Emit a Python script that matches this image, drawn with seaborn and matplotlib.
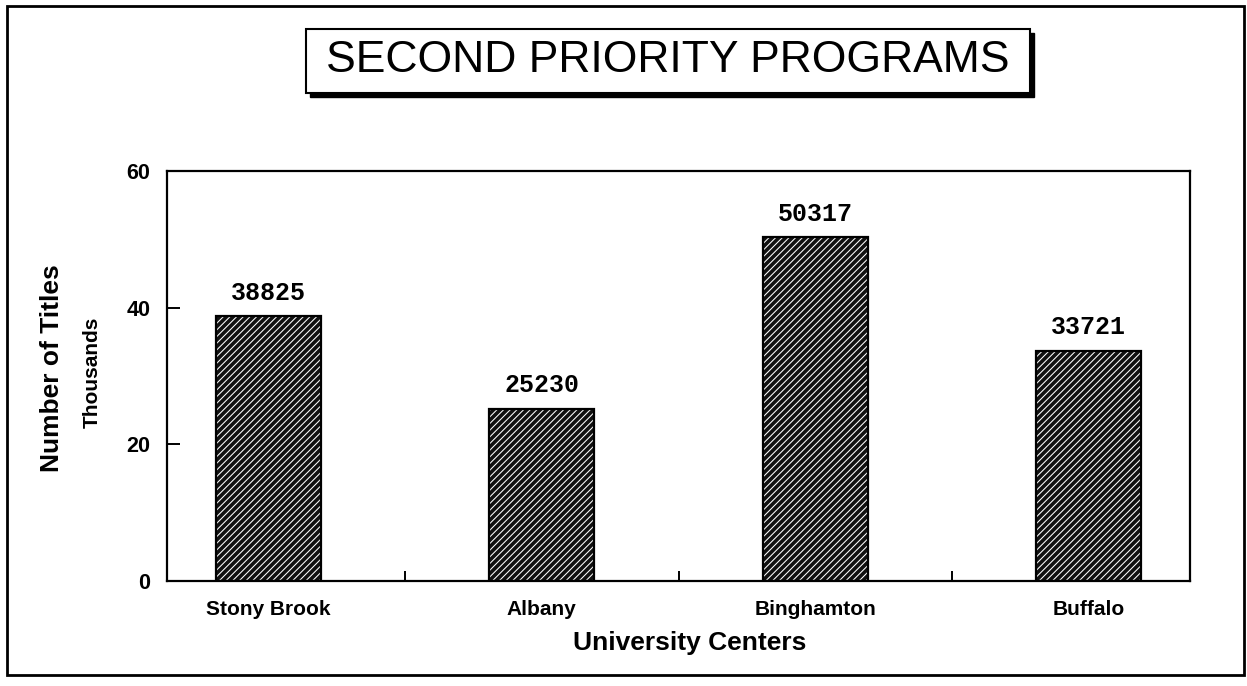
import matplotlib
matplotlib.use("Agg")
import matplotlib.pyplot as plt
from matplotlib.patches import Rectangle
import seaborn as sns
import pandas as pd

# ---- data ----
centers = ["Stony Brook", "Albany", "Binghamton", "Buffalo"]
titles = [38825, 25230, 50317, 33721]
yticks = [0, 20, 40, 60]
title_text = "SECOND PRIORITY PROGRAMS"
xlabel = "University Centers"
ylabel = "Number of Titles"
yunit = "Thousands"

df = pd.DataFrame({"center": centers, "thousands": [v / 1000 for v in titles]})

sns.set_style("white")
plt.rcParams["font.family"] = ["Liberation Sans", "DejaVu Sans"]
plt.rcParams["hatch.linewidth"] = 0.75
plt.rcParams["text.color"] = "black"
plt.rcParams["axes.labelcolor"] = "black"
plt.rcParams["xtick.color"] = "black"
plt.rcParams["ytick.color"] = "black"

W, H = 1247, 686
fig = plt.figure(figsize=(W / 100, H / 100), dpi=100)
ax = fig.add_axes([167 / W, 1 - 581 / H, (1190 - 167) / W, (581 - 171) / H])

# hatched fill
sns.barplot(data=df, x="center", y="thousands", order=centers, ax=ax,
            color="#111111", width=0.385, linewidth=0, saturation=1)
for p in ax.patches:
    p.set_hatch("/////")
    p.set_edgecolor("white")
    p.set_linewidth(0)
# outlines
sns.barplot(data=df, x="center", y="thousands", order=centers, ax=ax,
            fill=False, color="black", width=0.385, linewidth=1.6, saturation=1)

# value labels
ax.bar_label(ax.containers[0], labels=[str(v) for v in titles], padding=8,
             fontsize=18, family="Liberation Mono", fontweight="bold", color="black")

ax.set_xlim(-0.37, 3.37)
ax.set_ylim(0, 60)
ax.set_yticks(yticks)
ax.set_yticklabels([str(t) for t in yticks], fontsize=15.5, fontweight="bold")
ax.set_xticks(range(len(centers)))
ax.set_xticklabels(centers, fontsize=15, fontweight="bold")
ax.set_xticks([0.5, 1.5, 2.5], minor=True)
ax.tick_params(axis="x", which="major", length=0, pad=14)
ax.tick_params(axis="x", which="minor", direction="in", length=7, width=1.4,
               color="black", bottom=True)
ax.tick_params(axis="y", which="major", direction="in", length=9, width=1.4,
               color="black", left=True, pad=12)

for s in ax.spines.values():
    s.set_visible(True)
    s.set_color("black")
    s.set_linewidth(1.6)

ax.set_xlabel(xlabel, fontsize=19, fontweight="bold")
ax.xaxis.set_label_coords((690 - 167) / (1190 - 167), -(643 - 581) / (581 - 171))
ax.xaxis.label.set_va("center")
ax.set_ylabel(ylabel, fontsize=19, fontweight="bold")
ax.yaxis.label.set_va("center")
ax.yaxis.set_label_coords((52 - 167) / (1190 - 167), (581 - 368) / (581 - 171))
ax.text((92 - 167) / (1190 - 167), (581 - 372) / (581 - 171), yunit,
        transform=ax.transAxes, rotation=90, ha="center", va="center",
        fontsize=15, fontweight="bold")

# title box with shadow
bx0, bx1, by0, by1 = 306, 1030, 29, 93
fig.patches.append(Rectangle(((bx0 + 4) / W, 1 - (by1 + 4) / H), (bx1 - bx0) / W,
                             (by1 - by0) / H, transform=fig.transFigure,
                             facecolor="black", edgecolor="black", zorder=1))
fig.patches.append(Rectangle((bx0 / W, 1 - by1 / H), (bx1 - bx0) / W, (by1 - by0) / H,
                             transform=fig.transFigure, facecolor="white",
                             edgecolor="black", linewidth=1.5, zorder=2))
fig.text((bx0 + bx1) / 2 / W, 1 - 61 / H, title_text, ha="center", va="center",
         fontsize=32, zorder=3)

# outer border
fig.patches.append(Rectangle((7 / W, 1 - 675 / H), (1244 - 7) / W, (675 - 6) / H,
                             transform=fig.transFigure, facecolor="none",
                             edgecolor="black", linewidth=2, zorder=0))

fig.savefig("out.png", dpi=100, facecolor="white")
